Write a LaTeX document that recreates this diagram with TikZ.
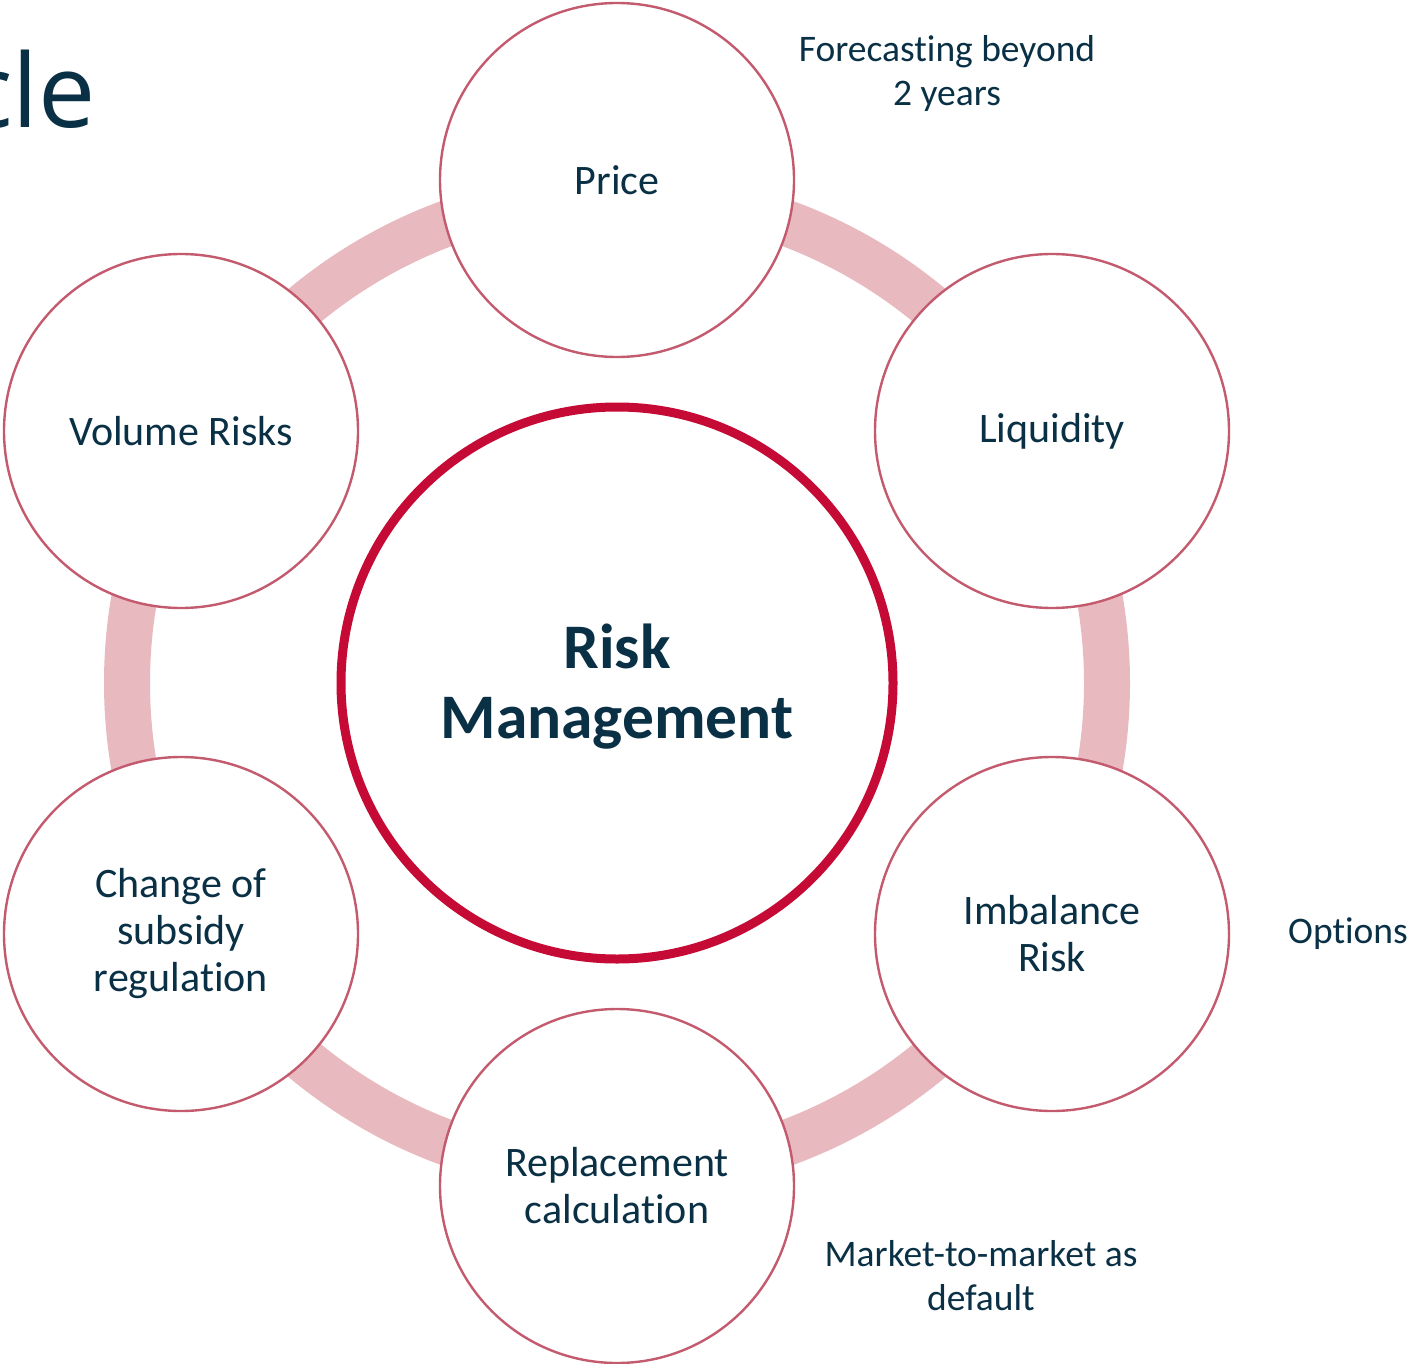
\documentclass[tikz,border=0pt]{standalone}
\usepackage{fontspec}
\setmainfont{Carlito}[Ligatures=NoCommon]
\newfontfamily\titlefont{Open Sans}
\definecolor{inkblue}{HTML}{0A3045}
\definecolor{riskred}{HTML}{C50A35}
\definecolor{ringpink}{HTML}{E8BAC0}
\definecolor{edgepink}{HTML}{C45A6E}
\tikzset{
  riskitem/.style={circle, draw=edgepink, line width=2.4pt, fill=white,
    minimum size=354pt, inner sep=0pt, align=center, text=inkblue,
    font=\fontsize{42}{47}\selectfont},
  hub/.style={circle, draw=riskred, line width=9pt, fill=white,
    minimum size=552pt, inner sep=0pt},
  hubtext/.style={align=center, text=inkblue, inner sep=0pt,
    font=\fontsize{63.5}{70}\selectfont\bfseries},
  note/.style={align=center, text=inkblue, inner sep=0pt,
    font=\fontsize{37.5}{44}\selectfont},
  ring/.style={draw=ringpink, line width=46pt}
}
\begin{document}
\begin{tikzpicture}[x=1pt, y=-1pt]
\useasboundingbox (0,0) rectangle (1408,1364);
\fill[white] (0,0) rectangle (1408,1364);

% heading, running off the left edge
\node[anchor=base east, inner sep=0pt, text=inkblue,
  font=\titlefont\fontsize{102}{110}\selectfont] (heading) at (96,128) {cle};

% pink ring linking the risk circles
\coordinate (hubc) at (617,683);
\draw[ring] (hubc) circle[radius=490];

% risk circles
\node[riskitem] (price) at (617,180) {Price};
\node[riskitem] (liquidity) at (1052,431) {Liquidity};
\node[riskitem] (imbalance) at (1052,934) {Imbalance\\Risk};
\node[riskitem] (replacement) at (617,1186) {Replacement\\calculation};
\node[riskitem] (subsidy) at (181,934) {Change of\\subsidy\\regulation};
\node[riskitem] (volume) at (181,431) {Volume Risks};

% central circle and its title
\node[hub] (hub) at (hubc) {};
\node[hubtext] (hubtitle) at (617,687) {Risk\\Management};

% side notes
\node[note] (forecast) at (947,74) {Forecasting beyond\\2 years};
\node[note] (options) at (1348,934) {Options};
\node[note] (mtm) at (981,1276) {Market-to-market as\\default};
\end{tikzpicture}
\end{document}
